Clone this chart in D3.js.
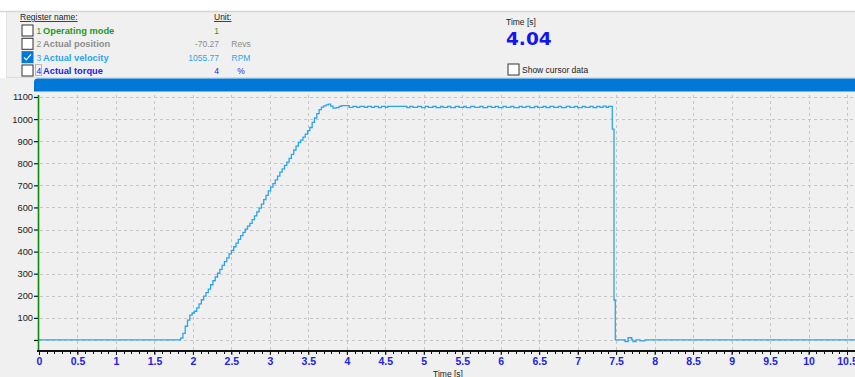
<!DOCTYPE html>
<html>
<head>
<meta charset="utf-8">
<script src="https://cdn.jsdelivr.net/npm/d3@7/dist/d3.min.js"></script>
<style>
  html, body { margin: 0; padding: 0; background: #ffffff; }
  svg { display: block; }
</style>
</head>
<body>
<svg id="chart" width="855" height="377"></svg>
<script>
// Register list shown in the header panel
const registerIds    = ["1", "2", "3", "4"];
const registerNames  = ["Operating mode", "Actual position", "Actual velocity", "Actual torque"];
const registerValues = ["1", "-70.27", "1055.77", "4"];
const registerUnits  = ["", "Revs", "RPM", "%"];
const registerColors = ["#1f9a1f", "#8c8c8c", "#2ba6ee", "#2424f0"];
const registerChecked = [false, false, true, false];

const cursorTime = "4.04";

// Axis ticks
const xTicks = [0, 0.5, 1, 1.5, 2, 2.5, 3, 3.5, 4, 4.5, 5, 5.5, 6, 6.5, 7, 7.5, 8, 8.5, 9, 9.5, 10, 10.5];
const yTicks = [0, 100, 200, 300, 400, 500, 600, 700, 800, 900, 1000, 1100];

// Actual velocity samples: time [s], velocity [RPM]
const velTime = [
  0, 1.80, 1.84, 1.87, 1.90, 1.93, 1.96, 1.99, 2.02, 2.05, 2.08, 2.11, 2.14, 2.17, 2.20,
  2.23, 2.26, 2.29, 2.32, 2.35, 2.38, 2.41, 2.44, 2.47, 2.50, 2.53, 2.56, 2.59, 2.62,
  2.65, 2.68, 2.71, 2.74, 2.77, 2.80, 2.83, 2.86, 2.89, 2.92, 2.95, 2.98, 3.01, 3.04,
  3.07, 3.10, 3.13, 3.16, 3.19, 3.22, 3.25, 3.28, 3.31, 3.34, 3.37, 3.40, 3.43, 3.46,
  3.49, 3.52, 3.55, 3.58, 3.61, 3.64, 3.67, 3.70, 3.73, 3.76, 3.79, 3.82, 3.86, 3.90,
  3.93, 4.03, 4.08, 4.13, 4.17, 4.23, 4.27, 4.32, 4.36, 4.41, 4.45, 4.50, 4.53, 4.57,
  4.78, 4.82, 4.86, 4.92, 4.97, 5.02, 5.06, 5.12, 5.16, 5.22, 5.25, 5.31, 5.35, 5.41,
  5.46, 5.52, 5.55, 5.61, 5.66, 5.73, 5.77, 5.83, 5.88, 5.93, 5.97, 6.03, 6.07, 6.13,
  6.17, 6.24, 6.28, 6.33, 6.38, 6.44, 6.48, 6.55, 6.59, 6.64, 6.69, 6.75, 6.79, 6.85,
  6.90, 6.96, 7.00, 7.06, 7.10, 7.16, 7.20, 7.25, 7.29, 7.33, 7.37, 7.40, 7.45, 7.472,
  7.489, 7.616, 7.655, 7.703, 7.719, 7.758, 7.81, 7.875, 10.62
];
const velValue = [
  0, 0, 8, 30, 62, 90, 112, 122, 130, 145, 163, 182, 198, 214, 230,
  250, 268, 285, 302, 320, 338, 355, 372, 390, 405, 422, 438, 455, 472,
  487, 502, 515, 528, 545, 562, 580, 597, 615, 635, 655, 675, 692, 708,
  725, 742, 760, 775, 790, 805, 822, 840, 860, 878, 893, 905, 918, 932,
  948, 962, 985, 1005, 1025, 1043, 1054, 1060, 1064, 1068, 1059, 1050, 1052, 1058,
  1061, 1053, 1058, 1053, 1058, 1053, 1058, 1053, 1058, 1052, 1058, 1053, 1058, 1058,
  1052, 1058, 1053, 1058, 1052, 1058, 1053, 1058, 1052, 1058, 1053, 1058, 1052, 1058,
  1053, 1058, 1052, 1058, 1053, 1058, 1052, 1058, 1053, 1058, 1052, 1058, 1053, 1058,
  1052, 1058, 1053, 1058, 1052, 1058, 1053, 1058, 1052, 1058, 1053, 1058, 1052, 1058,
  1053, 1058, 1052, 1058, 1053, 1058, 1052, 1058, 1053, 1059, 1053, 1058, 955, 181,
  0, -7, 10, 0, -7, 0, -4, 0, 0
];

const svg = d3.select("#chart");
const W = 855, H = 377;
const sans = "'Liberation Sans', Arial, sans-serif";

// ---------- backgrounds ----------
svg.append("rect").attr("x", 0).attr("y", 0).attr("width", W).attr("height", H).attr("fill", "#ffffff");
svg.append("rect").attr("x", 0).attr("y", 78).attr("width", W).attr("height", H - 78).attr("fill", "#f0f0f0");
// header panel
svg.append("rect").attr("x", 6).attr("y", 11).attr("width", W - 6).attr("height", 67).attr("fill", "#f0f0f0");
svg.append("line").attr("x1", 0).attr("x2", W).attr("y1", 11.5).attr("y2", 11.5)
  .attr("stroke", "#d6d6d6").attr("stroke-width", 1.5);
svg.append("line").attr("x1", 6.5).attr("x2", 6.5).attr("y1", 12).attr("y2", 78)
  .attr("stroke", "#e2e2e2");
svg.append("line").attr("x1", 6).attr("x2", W).attr("y1", 77.5).attr("y2", 77.5)
  .attr("stroke", "#d8dde2");

// blue scroll bar above the plot
svg.append("path")
  .attr("d", `M34,91.5 L34,82 Q34,78.5 37.5,78.5 L${W},78.5 L${W},91.5 Z`)
  .attr("fill", "#0078d7");

// ---------- header panel ----------
const hdr = svg.append("g").attr("font-family", sans);

function underlined(x, y, text) {
  const t = hdr.append("text").attr("x", x).attr("y", y).attr("font-size", 8.5)
    .attr("fill", "#222").attr("text-decoration", "underline").text(text);
  return t;
}
underlined(20, 20, "Register name:");
underlined(214, 20, "Unit:");

function checkbox(g, x, y, checked) {
  g.append("rect").attr("x", x + 0.5).attr("y", y + 0.5).attr("width", 11).attr("height", 11)
    .attr("fill", checked ? "#0078d7" : "#ffffff")
    .attr("stroke", checked ? "#0078d7" : "#333333").attr("stroke-width", 1);
  if (checked) {
    g.append("path")
      .attr("d", `M${x + 2.5},${y + 6.2} L${x + 4.8},${y + 8.6} L${x + 9.5},${y + 3.2}`)
      .attr("fill", "none").attr("stroke", "#ffffff").attr("stroke-width", 1.2);
  }
}

const rowY = [24.5, 37.8, 51.2, 64.5];
registerNames.forEach((name, i) => {
  const y = rowY[i];
  const c = registerColors[i];
  checkbox(hdr, 21.5, y, registerChecked[i]);
  hdr.append("text").attr("x", 36.5).attr("y", y + 9.5).attr("font-size", 8.5)
    .attr("fill", c).text(registerIds[i]);
  hdr.append("text").attr("x", 43).attr("y", y + 9.5).attr("font-size", 9.3)
    .attr("font-weight", "bold").attr("fill", c).text(name);
  hdr.append("text").attr("x", 219).attr("y", y + 9.5).attr("font-size", 8.5)
    .attr("text-anchor", "end").attr("fill", c).text(registerValues[i]);
  hdr.append("text").attr("x", 241).attr("y", y + 9.5).attr("font-size", 8.5)
    .attr("text-anchor", "middle").attr("fill", c).text(registerUnits[i]);
});
// keyboard focus marker round the last row's index
hdr.append("rect").attr("x", 35.5).attr("y", 64.5).attr("width", 6).attr("height", 11)
  .attr("fill", "none").attr("stroke", "#666").attr("stroke-width", 0.8)
  .attr("stroke-dasharray", "1,1");

hdr.append("text").attr("x", 506).attr("y", 25).attr("font-size", 8.5).attr("fill", "#222").text("Time [s]");
hdr.append("text").attr("x", 506).attr("y", 45).attr("font-family", "'DejaVu Sans', sans-serif")
  .attr("font-size", 18.5).attr("font-weight", "bold").attr("fill", "#1414f0").text(cursorTime);
checkbox(hdr, 507.5, 63.5, false);
hdr.append("text").attr("x", 522).attr("y", 72.5).attr("font-size", 8.5).attr("fill", "#222").text("Show cursor data");

// ---------- plot ----------
const x = d3.scaleLinear().domain([0, 10.5]).range([39, 847]);
const y = d3.scaleLinear().domain([-50, 1100]).range([351, 97]);
const plotTop = 95, plotBottom = 351;

const grid = svg.append("g").attr("stroke", "#c6c6c6").attr("stroke-width", 1)
  .attr("stroke-dasharray", "3,3");
grid.selectAll("line.v").data(xTicks.filter(d => d > 0)).join("line")
  .attr("x1", d => Math.round(x(d)) + 0.5).attr("x2", d => Math.round(x(d)) + 0.5)
  .attr("y1", plotTop).attr("y2", plotBottom);
grid.selectAll("line.h").data(yTicks).join("line")
  .attr("x1", 40).attr("x2", W)
  .attr("y1", d => Math.round(y(d)) + 0.5).attr("y2", d => Math.round(y(d)) + 0.5);

// velocity trace
const pts = velTime.map((t, i) => [t, velValue[i]]);
const line = d3.line().x(d => x(d[0])).y(d => y(d[1])).curve(d3.curveStepAfter);
svg.append("path").datum(pts)
  .attr("d", line)
  .attr("fill", "none").attr("stroke", "#2aa5ec").attr("stroke-width", 1.3);

// y axis
const yAxis = d3.axisLeft(y).tickValues(yTicks).tickSize(4).tickPadding(1)
  .tickFormat(d => d === 0 ? "" : d);
const gy = svg.append("g").attr("transform", "translate(38,0)").call(yAxis);
gy.select(".domain").remove();
gy.selectAll(".tick line").attr("stroke", "#111").attr("stroke-width", 1.2);
gy.selectAll(".tick text").attr("font-family", sans).attr("font-size", 9.3).attr("fill", "#222");
svg.append("line").attr("x1", 38.5).attr("x2", 38.5).attr("y1", plotTop).attr("y2", plotBottom)
  .attr("stroke", "#0a8a0a").attr("stroke-width", 1.6);

// x axis: minor ticks every 0.1 s, labels every 0.5 s
const minor = d3.range(0, 106).map(i => i / 10);
const xAxis = d3.axisBottom(x).tickValues(xTicks).tickSize(4).tickPadding(3)
  .tickFormat(d3.format("~g"));
const gx = svg.append("g").attr("transform", `translate(0,${plotBottom})`).call(xAxis);
gx.select(".domain").remove();
gx.selectAll(".tick line").attr("stroke", "#111");
gx.selectAll(".tick text").attr("font-family", sans).attr("font-size", 10.5)
  .attr("font-weight", "bold").attr("fill", "#2222e6");
svg.append("g").selectAll("line").data(minor).join("line")
  .attr("x1", d => Math.round(x(d)) + 0.5).attr("x2", d => Math.round(x(d)) + 0.5)
  .attr("y1", plotBottom).attr("y2", plotBottom + 3).attr("stroke", "#111");
svg.append("line").attr("x1", 37).attr("x2", W).attr("y1", plotBottom).attr("y2", plotBottom)
  .attr("stroke", "#111").attr("stroke-width", 2);

svg.append("text").attr("x", 448).attr("y", 376.5).attr("text-anchor", "middle")
  .attr("font-family", sans).attr("font-size", 8.5).attr("fill", "#222").text("Time [s]");
</script>
</body>
</html>
